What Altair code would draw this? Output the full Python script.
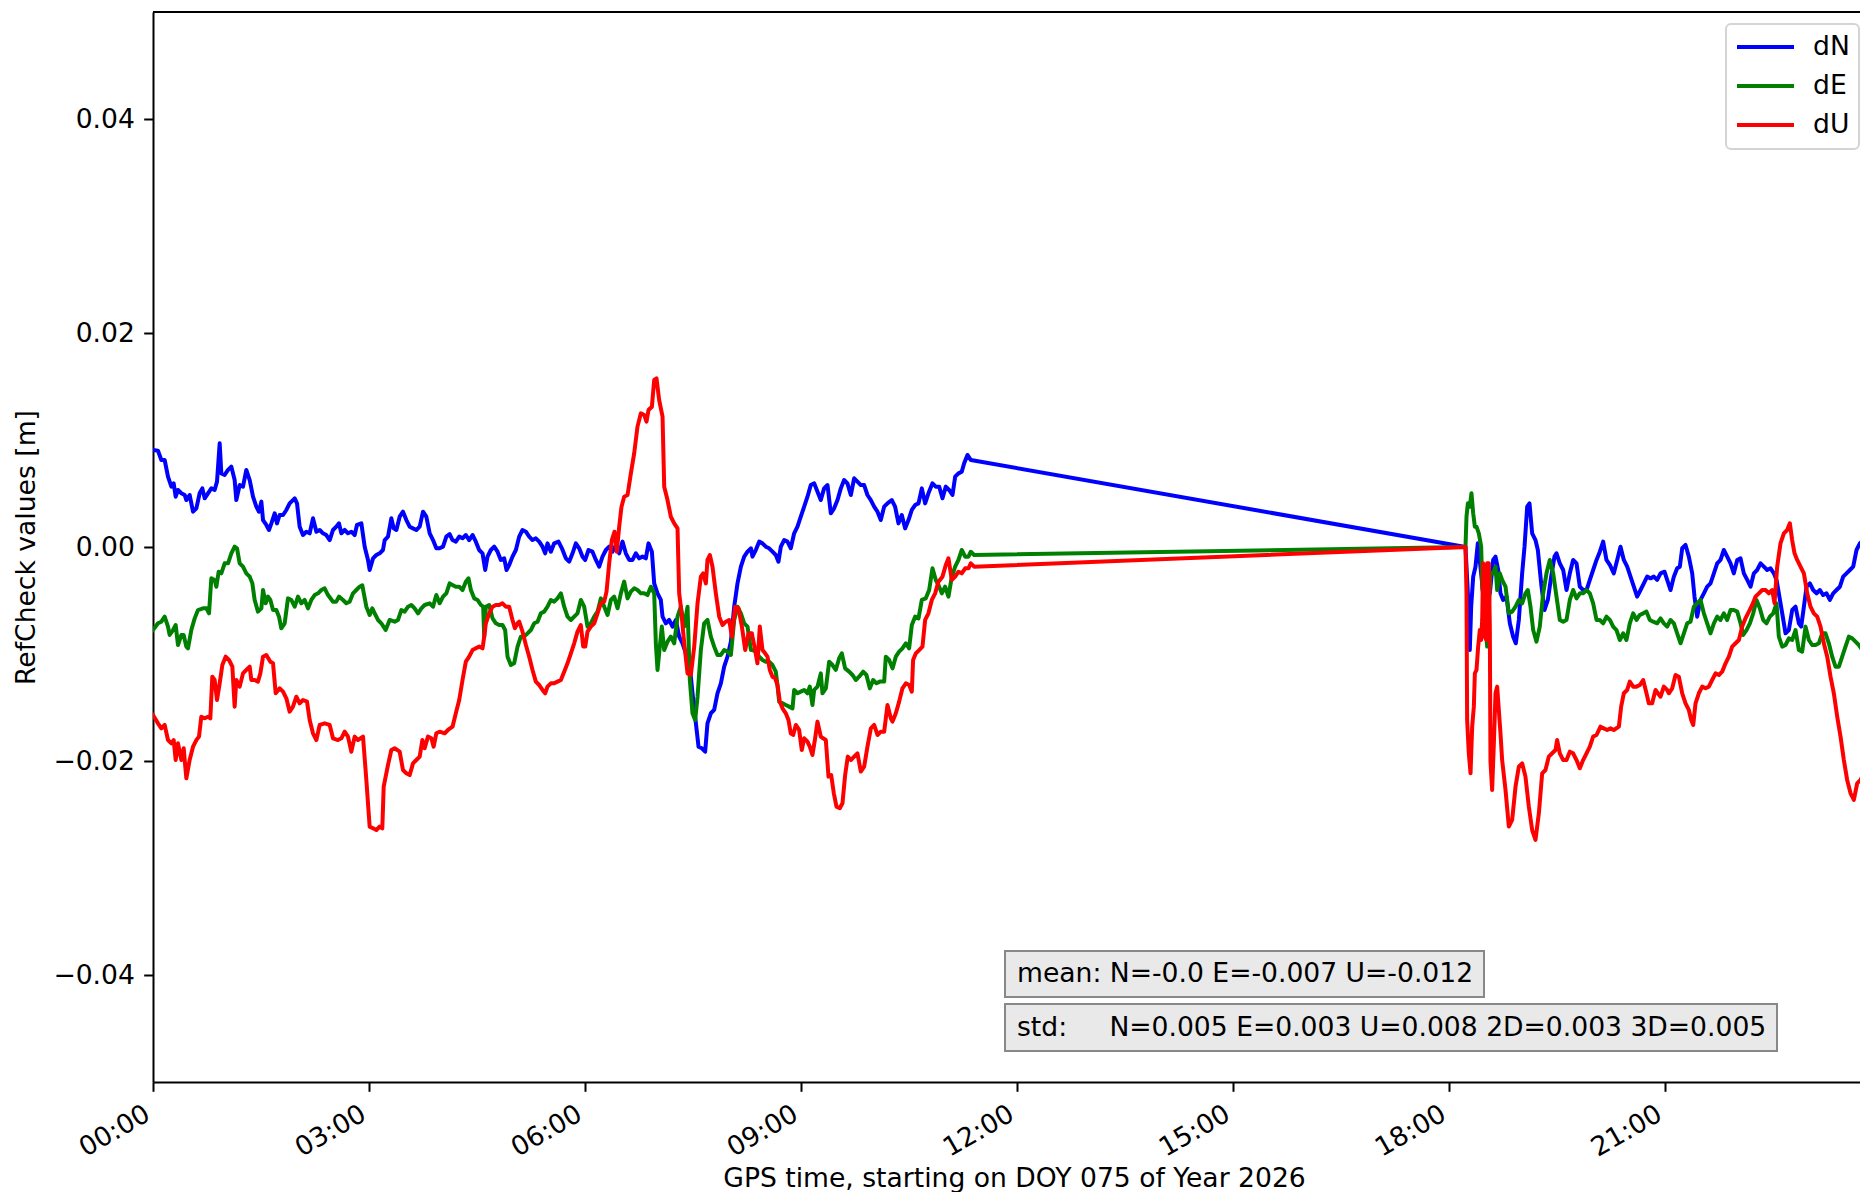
import altair as alt
import pandas as pd

# Values: (hours since 00:00 GPS time, value in millimetres)
dN = [
(0.0,9.06),(0.069,9.00),(0.116,8.13),(0.162,8.13),(0.208,6.57),(0.255,5.64),(0.287,5.95),(0.315,4.70),(0.347,5.33),(0.394,5.02),
(0.440,4.86),(0.463,4.39),(0.509,4.86),(0.556,3.30),(0.602,3.61),(0.648,5.02),(0.685,5.48),(0.718,4.55),(0.764,5.02),(0.810,5.48),
(0.856,5.33),(0.889,6.11),(0.926,9.69),(0.949,6.88),(0.995,6.73),(1.042,7.20),(1.088,7.51),(1.134,6.26),(1.157,4.39),(1.204,5.79),
(1.250,5.64),(1.296,7.20),(1.343,6.26),(1.389,4.70),(1.435,3.77),(1.472,3.30),(1.505,4.24),(1.528,2.52),(1.574,2.06),(1.611,1.59),
(1.644,2.21),(1.690,3.15),(1.722,2.21),(1.759,2.99),(1.806,2.99),(1.852,3.46),(1.898,4.08),(1.968,4.55),(2.000,4.08),(2.037,1.90),
(2.083,1.12),(2.130,1.43),(2.176,1.28),(2.222,2.68),(2.269,1.43),(2.315,1.59),(2.361,1.28),(2.407,1.12),(2.454,0.65),(2.500,1.59),
(2.546,1.90),(2.583,2.21),(2.616,1.28),(2.662,1.59),(2.708,1.28),(2.755,1.43),(2.801,1.12),(2.833,2.06),(2.894,2.21),(2.940,0.03),
(2.986,-1.21),(3.009,-2.15),(3.056,-1.06),(3.102,-0.75),(3.148,-0.59),(3.194,-0.28),(3.218,0.65),(3.264,0.97),(3.310,2.68),(3.343,1.74),
(3.380,1.59),(3.426,2.83),(3.472,3.30),(3.519,2.52),(3.565,1.90),(3.611,1.74),(3.657,1.59),(3.704,1.90),(3.750,3.30),(3.796,2.83),
(3.843,1.28),(3.889,0.65),(3.935,-0.12),(3.981,-0.12),(4.028,0.03),(4.074,0.97),(4.120,1.21),
(4.160,0.65),(4.206,0.50),(4.253,0.97),(4.299,0.81),(4.345,1.12),(4.391,0.65),(4.438,1.12),(4.484,0.50),(4.530,-0.28),(4.577,-0.59),
(4.614,-2.15),(4.646,-0.90),(4.692,-0.28),(4.739,0.03),(4.785,-0.44),(4.831,-1.21),(4.878,-1.06),(4.910,-2.15),(4.947,-1.68),(4.993,-0.90),
(5.040,-0.28),(5.086,0.97),(5.132,1.59),(5.179,1.43),(5.225,0.97),(5.271,0.65),(5.317,0.81),(5.364,0.50),(5.410,0.03),(5.447,-0.59),
(5.479,0.34),(5.526,-0.44),(5.572,0.34),(5.632,0.50),(5.679,-0.12),(5.734,-1.06),(5.780,-1.37),(5.827,-0.59),(5.873,0.34),(5.919,-0.12),
(5.966,-0.90),(6.003,-1.21),(6.049,-0.28),(6.104,-0.44),(6.151,-1.21),(6.197,-1.84),(6.243,-0.90),(6.290,-0.28),(6.336,0.03),(6.382,-0.44),
(6.429,0.19),(6.475,-0.59),(6.521,0.50),(6.567,-0.59),(6.614,-1.21),(6.660,-1.21),(6.706,-0.59),(6.753,-1.06),(6.799,-0.90),(6.845,-1.06),
(6.882,0.34),(6.929,-0.44),(6.961,-3.40),(7.007,-4.33),(7.053,-4.95),(7.077,-6.51),(7.123,-7.13),(7.169,-6.82),(7.216,-7.44),(7.262,-6.82),
(7.308,-8.38),(7.354,-9.00),(7.401,-9.94),(7.447,-10.56),(7.493,-13.67),(7.540,-16.48),(7.577,-18.66),(7.623,-18.81),(7.669,-19.13),(7.701,-16.48),
(7.748,-15.54),(7.794,-15.23),(7.840,-13.67),(7.887,-12.74),(7.933,-11.18),(7.979,-10.25),(8.026,-8.85),(8.072,-5.58),(8.118,-3.40),(8.165,-1.84),
(8.211,-0.90),(8.257,-0.44),(8.304,-0.12),
(8.326,-0.90),(8.372,-0.28),(8.419,0.50),(8.465,0.34),(8.511,0.03),(8.557,-0.12),(8.604,-0.44),(8.650,-0.75),(8.687,-1.37),(8.720,0.03),
(8.766,0.65),(8.812,0.50),(8.858,-0.12),(8.905,1.28),(8.951,1.90),(8.997,2.83),(9.044,3.77),(9.090,4.70),(9.136,5.79),(9.183,5.95),
(9.229,5.17),(9.275,4.39),(9.321,5.48),(9.368,5.79),(9.414,3.15),(9.460,3.61),(9.507,4.39),(9.553,5.48),(9.599,6.26),(9.645,5.95),
(9.692,4.86),(9.738,6.42),(9.784,6.11),(9.831,5.79),(9.877,5.79),(9.923,4.86),(9.970,4.39),(10.016,3.77),(10.062,3.30),(10.108,2.52),
(10.155,3.77),(10.201,4.08),(10.261,4.39),(10.307,3.77),(10.354,2.21),(10.400,2.99),(10.446,1.74),(10.493,2.52),(10.539,3.46),(10.585,3.92),
(10.632,4.08),(10.678,5.48),(10.724,4.08),(10.770,5.02),(10.826,5.95),(10.872,5.64),(10.919,5.64),(10.965,4.55),(11.011,5.64),(11.057,5.33),
(11.104,4.86),(11.141,6.57),(11.187,6.88),(11.233,7.04),(11.266,7.82),(11.312,8.60),(11.359,8.13),
(18.229,0.0),(18.262,-4.33),(18.289,-9.63),(18.308,-5.58),(18.336,-2.77),(18.368,-1.84),(18.400,0.34),(18.437,-1.84),(18.474,-4.33),(18.521,-4.33),
(18.567,-4.33),(18.613,-1.21),(18.646,-0.90),(18.683,-2.15),(18.715,-4.33),(18.752,-4.95),(18.799,-4.64),(18.845,-7.13),(18.891,-8.38),(18.928,-9.00),
(18.970,-6.82),(19.016,-2.46),(19.049,0.03),(19.086,3.77),(19.118,4.08),(19.155,1.28),(19.201,0.65),(19.234,-0.28),(19.280,-3.40),(19.326,-5.89),
(19.373,-4.95),(19.419,-2.77),(19.465,-0.90),(19.493,-0.59),(19.539,-1.53),(19.586,-2.15),(19.632,-4.02),(19.678,-2.46),(19.724,-1.21),(19.771,-1.53),
(19.817,-3.71),(19.863,-4.02),(19.910,-4.02),(19.956,-3.08),(20.002,-2.15),(20.049,-1.21),(20.095,-0.44),(20.141,0.50),(20.187,-1.21),(20.234,-1.68),
(20.289,-2.46),(20.336,-1.21),(20.382,0.03),(20.428,-1.21),(20.475,-1.84),(20.521,-2.77),(20.567,-3.71),(20.613,-4.64),(20.660,-4.02),(20.706,-3.40),
(20.752,-2.77),(20.799,-2.93),(20.845,-2.77),(20.891,-3.08),
(20.938,-2.46),(20.993,-2.31),(21.030,-3.08),(21.077,-4.02),(21.123,-2.77),(21.169,-1.99),(21.206,-1.84),(21.239,-0.12),(21.285,0.19),(21.331,-0.90),
(21.378,-2.46),(21.410,-4.64),(21.447,-6.51),(21.493,-4.95),(21.540,-4.33),(21.586,-3.71),(21.632,-3.40),(21.679,-2.46),(21.725,-1.53),(21.771,-1.21),
(21.817,-0.28),(21.864,-0.90),(21.910,-1.53),(21.956,-2.46),(22.003,-1.21),(22.049,-1.06),(22.095,-2.46),(22.142,-3.08),(22.188,-3.71),(22.234,-2.46),
(22.280,-2.15),(22.327,-1.53),(22.373,-1.84),(22.419,-2.15),(22.466,-1.99),(22.512,-2.46),(22.549,-3.08),(22.581,-4.33),(22.628,-6.20),(22.674,-8.07),
(22.720,-7.76),(22.767,-5.89),(22.813,-5.58),(22.859,-7.13),(22.892,-7.44),(22.929,-5.58),(22.966,-3.71),(23.012,-3.40),(23.058,-4.02),(23.105,-4.33),
(23.151,-4.02),(23.197,-4.49),(23.243,-4.33),(23.290,-4.95),(23.336,-4.33),(23.382,-4.02),(23.429,-3.71),(23.475,-2.77),(23.521,-2.46),(23.568,-2.15),
(23.614,-1.84),(23.660,-0.28),(23.706,0.34),(23.753,0.65),(23.799,0.97),(23.827,1.90),
]

dE = [
(0.0,-7.76),(0.069,-7.13),(0.116,-6.98),(0.162,-6.51),(0.208,-7.44),(0.231,-8.22),(0.278,-7.76),(0.315,-7.29),(0.347,-9.16),(0.394,-8.22),
(0.426,-8.22),(0.463,-9.31),(0.486,-9.47),(0.532,-7.76),(0.579,-6.67),(0.625,-5.89),(0.694,-5.73),(0.741,-5.73),(0.778,-6.20),(0.810,-2.93),
(0.856,-3.08),(0.880,-3.71),(0.912,-2.31),(0.949,-2.46),(0.995,-1.53),(1.042,-1.53),(1.088,-0.59),(1.134,0.03),(1.167,-0.12),(1.204,-1.53),
(1.250,-1.84),(1.296,-2.46),(1.343,-2.77),(1.380,-3.40),(1.412,-4.95),(1.458,-6.04),(1.505,-5.73),(1.528,-4.02),(1.565,-5.26),(1.597,-4.64),
(1.630,-4.95),(1.667,-5.89),(1.713,-5.89),(1.750,-6.51),(1.782,-7.60),(1.829,-7.13),(1.875,-4.80),(1.921,-4.95),(1.968,-5.58),(2.014,-4.64),
(2.060,-5.26),(2.106,-4.95),(2.153,-5.73),(2.199,-4.95),(2.245,-4.49),(2.292,-4.33),(2.338,-4.02),(2.384,-3.86),(2.431,-4.49),(2.500,-5.11),
(2.546,-5.11),(2.583,-4.64),(2.639,-4.95),(2.685,-5.26),(2.731,-5.11),(2.778,-4.33),(2.824,-4.02),(2.870,-3.71),(2.907,-3.58),(2.963,-5.58),
(3.009,-6.35),(3.046,-5.73),(3.079,-6.20),(3.125,-6.82),(3.171,-7.13),(3.231,-7.76),(3.287,-6.82),(3.356,-6.98),(3.403,-6.82),(3.449,-5.89),
(3.495,-6.04),(3.542,-5.58),(3.588,-5.42),(3.634,-5.73),(3.681,-6.20),(3.727,-5.73),(3.773,-5.42),(3.843,-5.26),(3.889,-5.58),(3.935,-4.49),
(3.981,-5.26),(4.028,-4.64),(4.074,-4.33),(4.120,-3.40),
(4.160,-3.55),(4.206,-3.71),(4.253,-3.71),(4.299,-4.02),(4.345,-3.24),(4.382,-2.93),(4.415,-4.02),(4.461,-4.80),(4.507,-4.95),(4.554,-5.42),
(4.586,-5.58),(4.600,-8.38),(4.623,-5.58),(4.669,-5.42),(4.716,-6.67),(4.762,-7.13),(4.808,-7.29),(4.854,-7.29),(4.891,-7.76),(4.924,-10.25),
(4.970,-11.03),(5.016,-10.87),(5.063,-9.31),(5.109,-8.38),(5.155,-8.38),(5.202,-8.07),(5.248,-7.76),(5.294,-7.13),(5.341,-6.98),(5.387,-6.20),
(5.433,-6.04),(5.479,-5.58),(5.526,-4.95),(5.572,-5.11),(5.618,-4.80),(5.665,-4.33),(5.711,-5.58),(5.757,-6.51),(5.804,-6.82),(5.850,-6.51),
(5.896,-6.20),(5.942,-4.95),(5.989,-5.58),(6.035,-7.44),(6.081,-7.13),(6.128,-6.51),(6.174,-6.04),(6.220,-4.80),(6.267,-5.58),(6.313,-6.35),
(6.359,-4.95),(6.405,-4.64),(6.452,-5.73),(6.498,-4.33),(6.544,-3.24),(6.591,-4.80),(6.637,-4.17),(6.683,-3.86),(6.729,-4.02),(6.776,-4.33),
(6.822,-4.33),(6.868,-4.49),(6.915,-3.71),(6.961,-4.33),(6.984,-9.00),(7.007,-11.49),(7.030,-9.94),(7.067,-7.44),(7.100,-9.63),(7.146,-8.85),
(7.192,-8.38),(7.239,-9.00),(7.285,-6.51),(7.331,-5.58),(7.378,-7.44),(7.424,-5.58),(7.456,-12.43),(7.493,-15.54),(7.530,-16.17),(7.563,-13.99),
(7.609,-9.63),(7.655,-7.13),(7.701,-6.82),(7.748,-8.38),(7.794,-9.31),(7.840,-10.09),(7.887,-10.09),(7.933,-9.63),(7.979,-9.78),(8.026,-10.09),
(8.072,-6.82),(8.118,-5.58),(8.165,-6.20),(8.211,-7.13),(8.257,-7.44),(8.304,-9.63),
(8.326,-9.63),(8.372,-9.78),(8.419,-10.25),(8.465,-10.56),(8.511,-10.72),(8.557,-10.72),(8.604,-11.03),(8.650,-11.65),(8.673,-12.90),(8.696,-14.45),
(8.743,-14.61),(8.789,-14.77),(8.835,-14.92),(8.882,-15.08),(8.905,-13.36),(8.951,-13.67),(8.997,-13.52),(9.044,-13.36),(9.090,-13.67),(9.122,-13.05),
(9.159,-14.77),(9.183,-13.36),(9.229,-13.05),(9.275,-11.81),(9.298,-13.67),(9.345,-13.21),(9.391,-10.72),(9.437,-11.03),(9.483,-11.49),(9.530,-10.40),
(9.567,-9.94),(9.613,-11.34),(9.669,-11.65),(9.715,-11.96),(9.761,-12.43),(9.807,-12.12),(9.863,-11.65),(9.909,-11.96),(9.956,-13.21),(10.002,-12.43),
(10.048,-12.74),(10.095,-12.58),(10.155,-12.58),(10.178,-10.25),(10.224,-10.56),(10.271,-11.34),(10.317,-10.25),(10.363,-9.78),(10.409,-9.47),(10.456,-9.00),
(10.502,-9.47),(10.539,-7.29),(10.585,-6.51),(10.632,-6.67),(10.678,-4.95),(10.733,-4.80),(10.780,-4.02),(10.826,-1.99),(10.872,-3.08),(10.909,-3.55),
(10.956,-4.33),(11.002,-3.71),(11.048,-4.64),(11.095,-2.77),(11.141,-1.84),(11.187,-1.21),(11.233,-0.28),(11.280,-0.90),(11.326,-0.90),(11.358,-0.44),
(11.405,-0.75),
(18.229,0.0),(18.243,2.83),(18.262,4.08),(18.289,3.77),(18.312,5.02),(18.336,3.15),(18.359,1.90),(18.382,1.90),(18.414,1.28),(18.447,0.03),
(18.461,-3.71),(18.484,-4.95),(18.507,-7.44),(18.530,-9.31),(18.553,-5.58),(18.576,-2.46),(18.613,-2.46),(18.646,-1.84),(18.669,-4.02),(18.706,-2.46),
(18.738,-3.08),(18.785,-3.71),(18.831,-6.20),(18.877,-6.04),(18.924,-5.58),(18.970,-4.95),(19.016,-5.26),(19.062,-4.33),(19.095,-4.02),(19.132,-5.58),
(19.169,-7.76),(19.215,-8.85),(19.261,-7.44),(19.308,-4.33),(19.354,-2.46),(19.400,-1.21),(19.447,-2.46),(19.493,-4.64),(19.539,-6.82),(19.586,-6.98),
(19.632,-6.82),(19.678,-4.95),(19.724,-4.02),(19.771,-4.80),(19.817,-4.33),(19.863,-4.33),(19.910,-4.02),(19.956,-4.33),(20.002,-5.26),(20.049,-6.82),
(20.095,-6.82),(20.141,-7.13),(20.187,-6.51),(20.234,-6.82),(20.280,-7.44),(20.326,-7.76),(20.373,-8.69),(20.419,-8.07),(20.465,-8.69),(20.511,-7.13),
(20.558,-6.20),(20.604,-6.82),(20.650,-6.35),(20.697,-6.20),(20.743,-6.04),(20.789,-6.82),(20.836,-6.98),(20.891,-7.13),
(20.938,-6.67),(20.984,-7.13),(21.030,-7.44),(21.077,-6.82),(21.123,-7.13),(21.169,-8.07),(21.216,-9.00),(21.262,-8.07),(21.308,-7.13),(21.354,-6.98),
(21.401,-5.58),(21.447,-5.26),(21.493,-4.95),(21.540,-6.20),(21.586,-7.13),(21.632,-8.07),(21.679,-7.13),(21.725,-6.51),(21.771,-6.82),(21.817,-6.20),
(21.864,-6.82),(21.910,-5.89),(21.956,-5.89),(22.003,-6.04),(22.049,-7.13),(22.086,-8.22),(22.132,-7.76),(22.179,-7.13),(22.225,-6.20),(22.271,-4.95),
(22.317,-5.73),(22.364,-6.82),(22.410,-7.13),(22.456,-6.51),(22.503,-6.20),(22.549,-5.26),(22.581,-8.38),(22.628,-9.31),(22.674,-9.16),(22.720,-8.54),
(22.767,-8.69),(22.813,-7.76),(22.859,-9.63),(22.905,-9.78),(22.952,-7.44),(22.998,-8.69),(23.044,-9.16),(23.091,-9.16),(23.137,-9.00),(23.183,-8.07),
(23.229,-8.07),(23.276,-9.00),(23.322,-10.25),(23.368,-11.18),(23.415,-11.18),(23.461,-10.25),(23.507,-9.31),(23.554,-8.38),(23.600,-8.54),(23.646,-8.85),
(23.693,-9.16),(23.739,-9.63),(23.785,-10.56),(23.817,-11.18),(23.827,-7.13),
]

dU = [
(0.0,-15.70),(0.069,-16.48),(0.116,-16.95),(0.162,-16.63),(0.208,-18.04),(0.255,-18.35),(0.287,-18.04),(0.315,-19.91),(0.347,-18.35),(0.394,-19.91),
(0.426,-18.81),(0.463,-21.62),(0.509,-19.91),(0.556,-18.66),(0.602,-18.04),(0.639,-17.72),(0.671,-15.86),(0.718,-16.01),(0.764,-15.86),(0.796,-16.01),
(0.824,-12.12),(0.856,-12.43),(0.889,-14.30),(0.926,-12.74),(0.963,-11.03),(1.009,-10.25),(1.056,-10.56),(1.102,-11.18),(1.134,-14.92),(1.157,-12.43),
(1.204,-13.05),(1.250,-11.81),(1.296,-11.49),(1.343,-11.18),(1.366,-12.43),(1.412,-12.43),(1.458,-12.58),(1.491,-11.81),(1.528,-10.25),(1.574,-10.09),
(1.630,-10.72),(1.667,-10.87),(1.704,-13.67),(1.759,-13.21),(1.806,-13.52),(1.852,-14.14),(1.898,-15.39),(1.944,-14.92),(1.991,-13.99),(2.037,-14.61),
(2.083,-14.30),(2.139,-14.45),(2.176,-16.17),(2.222,-17.41),(2.269,-18.04),(2.315,-16.63),(2.384,-16.48),(2.454,-16.63),(2.500,-17.88),(2.569,-18.04),
(2.616,-17.88),(2.662,-17.26),(2.708,-17.72),(2.755,-19.13),(2.801,-17.72),(2.847,-18.04),(2.917,-17.72),(2.963,-21.77),(3.009,-26.13),(3.056,-26.29),
(3.102,-26.45),(3.148,-26.13),(3.185,-26.29),(3.204,-22.40),(3.264,-20.37),(3.310,-18.97),(3.356,-18.81),(3.426,-19.13),(3.472,-20.84),(3.519,-21.15),
(3.565,-21.31),(3.611,-20.22),(3.657,-19.91),(3.704,-19.59),(3.741,-18.04),(3.773,-18.81),(3.819,-17.72),(3.866,-17.88),(3.898,-18.66),(3.935,-17.41),
(3.981,-17.26),(4.051,-17.41),(4.097,-17.10),
(4.160,-16.79),(4.206,-15.54),(4.253,-14.30),(4.299,-12.43),(4.345,-10.72),(4.391,-10.25),(4.438,-9.63),(4.484,-9.47),(4.530,-9.31),(4.577,-9.47),
(4.600,-8.38),(4.623,-7.13),(4.669,-6.20),(4.716,-5.58),(4.762,-5.42),(4.808,-5.42),(4.854,-5.26),(4.901,-5.58),(4.947,-5.58),(4.993,-6.82),
(5.026,-7.60),(5.063,-7.13),(5.086,-6.98),(5.132,-7.91),(5.179,-9.16),(5.225,-10.25),(5.271,-11.49),(5.317,-12.58),(5.364,-12.90),(5.410,-13.36),
(5.447,-13.67),(5.479,-13.05),(5.526,-12.74),(5.572,-12.74),(5.618,-12.58),(5.665,-12.43),(5.711,-11.65),(5.757,-10.87),(5.804,-9.94),(5.850,-9.00),
(5.896,-7.91),(5.942,-7.29),(5.975,-9.31),(6.003,-9.31),(6.035,-7.91),(6.081,-7.44),(6.128,-7.13),(6.174,-6.20),(6.220,-5.26),(6.267,-5.11),
(6.299,-4.17),(6.336,-1.53),(6.373,0.65),(6.410,1.43),(6.442,-0.44),(6.475,1.90),(6.507,3.77),(6.544,4.70),(6.591,4.86),(6.637,6.88),
(6.683,8.75),(6.729,11.25),(6.776,12.49),(6.822,12.34),(6.854,11.71),(6.882,12.80),(6.929,13.11),(6.961,15.61),(6.993,15.76),(7.030,13.74),
(7.077,12.18),(7.100,5.64),(7.146,4.39),(7.192,2.83),(7.239,2.21),(7.285,1.74),(7.308,-4.33),(7.331,-5.58),(7.378,-9.00),(7.424,-11.81),
(7.470,-11.96),(7.517,-9.31),(7.563,-5.26),(7.609,-2.77),(7.641,-2.46),(7.679,-3.40),(7.701,-1.21),(7.734,-0.75),(7.771,-1.84),(7.817,-4.33),
(7.864,-6.51),(7.910,-7.29),(7.956,-6.98),(8.003,-6.82),(8.040,-8.38),(8.086,-5.58),(8.132,-5.73),(8.179,-7.44),(8.225,-9.63),(8.271,-8.07),
(8.318,-8.07),
(8.326,-8.38),(8.363,-9.63),(8.395,-10.87),(8.428,-7.44),(8.465,-9.63),(8.502,-9.94),(8.534,-10.25),(8.567,-11.49),(8.604,-12.12),(8.641,-12.27),
(8.673,-12.90),(8.706,-14.45),(8.743,-15.08),(8.789,-15.54),(8.826,-16.17),(8.858,-17.41),(8.891,-17.57),(8.928,-16.63),(8.974,-17.10),(9.011,-18.97),
(9.044,-17.88),(9.090,-18.19),(9.122,-18.66),(9.159,-19.44),(9.196,-17.88),(9.229,-16.32),(9.275,-17.72),(9.307,-17.88),(9.345,-18.04),(9.382,-21.46),
(9.419,-21.31),(9.456,-23.02),(9.493,-24.27),(9.539,-24.42),(9.576,-23.95),(9.613,-21.31),(9.650,-19.59),(9.692,-19.91),(9.738,-19.59),(9.784,-19.28),
(9.831,-20.99),(9.877,-20.53),(9.923,-18.66),(9.970,-16.95),(10.016,-16.63),(10.062,-17.57),(10.108,-17.26),(10.155,-17.26),(10.201,-14.77),(10.247,-16.01),
(10.271,-16.32),(10.317,-15.54),(10.363,-14.45),(10.409,-13.21),(10.456,-12.74),(10.502,-12.90),(10.539,-13.52),(10.557,-10.56),(10.595,-9.94),(10.641,-9.63),
(10.687,-9.31),(10.724,-6.82),(10.770,-6.20),(10.817,-4.95),(10.863,-4.33),(10.909,-3.24),(10.965,-2.77),(11.011,-1.68),(11.048,-1.06),(11.095,-3.08),
(11.141,-2.77),(11.187,-2.31),(11.233,-2.46),(11.280,-1.99),(11.326,-1.99),(11.358,-1.53),(11.405,-1.84),
(18.229,0.0),(18.243,-4.33),(18.252,-16.17),(18.275,-19.28),(18.299,-21.15),(18.322,-16.79),(18.345,-14.92),(18.359,-11.81),(18.382,-11.49),(18.405,-9.31),
(18.428,-7.76),(18.447,-8.69),(18.461,-6.82),(18.474,-1.53),(18.498,-8.38),(18.521,-8.69),(18.530,-1.53),(18.553,-1.53),(18.567,-7.44),(18.576,-20.03),
(18.599,-22.71),(18.623,-18.35),(18.646,-13.67),(18.669,-13.05),(18.692,-15.23),(18.715,-17.41),(18.738,-19.91),(18.785,-22.71),(18.831,-26.13),(18.877,-25.51),
(18.924,-22.40),(18.970,-20.53),(19.016,-20.22),(19.062,-21.46),(19.109,-24.27),(19.155,-26.45),(19.201,-27.38),(19.248,-24.89),(19.294,-21.15),(19.340,-20.84),
(19.386,-19.59),(19.433,-19.28),(19.479,-18.97),(19.502,-18.04),(19.539,-19.28),(19.586,-19.91),(19.632,-19.91),(19.678,-19.13),(19.724,-19.28),(19.771,-19.91),
(19.817,-20.68),(19.863,-19.91),(19.910,-19.28),(19.956,-18.66),(20.002,-17.72),(20.049,-17.57),(20.104,-16.79),(20.150,-16.95),(20.197,-17.10),(20.243,-16.95),
(20.289,-17.10),(20.359,-16.79),(20.391,-14.92),(20.428,-13.67),(20.475,-13.36),(20.511,-12.58),(20.558,-13.05),(20.604,-13.05),(20.650,-12.90),(20.697,-12.43),
(20.743,-13.67),(20.775,-14.61),(20.822,-14.61),(20.868,-13.36),
(20.938,-13.99),(20.984,-13.05),(21.030,-13.36),(21.054,-13.67),(21.100,-13.21),(21.146,-11.96),(21.192,-12.12),(21.239,-13.67),(21.285,-14.61),(21.331,-15.23),
(21.364,-16.17),(21.392,-16.63),(21.424,-14.61),(21.470,-13.67),(21.517,-13.05),(21.563,-13.21),(21.609,-13.05),(21.655,-12.43),(21.702,-11.81),(21.748,-11.96),
(21.794,-11.65),(21.841,-10.87),(21.887,-10.25),(21.933,-9.31),(21.980,-9.00),(22.026,-8.69),(22.072,-7.44),(22.118,-6.67),(22.165,-6.04),(22.211,-5.42),
(22.257,-4.64),(22.304,-4.33),(22.350,-4.02),(22.396,-4.02),(22.443,-4.33),(22.489,-4.02),(22.521,-5.26),(22.558,-1.84),(22.604,0.34),(22.651,1.28),
(22.697,1.59),(22.734,2.21),(22.766,0.65),(22.799,-0.59),(22.836,-1.21),(22.882,-1.84),(22.929,-2.46),(22.975,-4.33),(23.021,-5.58),(23.067,-6.20),
(23.114,-6.51),(23.160,-7.44),(23.206,-9.00),(23.253,-10.25),(23.299,-12.12),(23.345,-13.67),(23.392,-15.86),(23.438,-17.72),(23.484,-19.91),(23.530,-21.77),
(23.577,-23.02),(23.623,-23.64),(23.669,-22.09),(23.716,-21.77),(23.762,-21.15),(23.827,-19.91),
]

series_names = ["dN", "dE", "dU"]
series_colors = ["#0000ff", "#008000", "#ff0000"]
x_tick_hours = [0, 3, 6, 9, 12, 15, 18, 21]
y_tick_values = [-0.04, -0.02, 0.0, 0.02, 0.04]
x_title = "GPS time, starting on DOY 075 of Year 2026"
y_title = "RefCheck values [m]"
mean_text = "mean: N=-0.0 E=-0.007 U=-0.012"
std_text = "std:\u00a0\u00a0\u00a0\u00a0\u00a0N=0.005 E=0.003 U=0.008 2D=0.003 3D=0.005"

rows = []
for name, pts in zip(series_names, [dN, dE, dU]):
    for t, v in pts:
        rows.append({"t": t, "v": v / 1000.0, "s": name})
df = pd.DataFrame(rows)

W, H = 1707, 1070
FS = 26.6
FONT = "DejaVu Sans"

xscale = alt.Scale(domain=[0, W / 72.0], nice=False, zero=False)
yscale = alt.Scale(domain=[-0.05, 0.05], nice=False, zero=False)

xaxis = alt.Axis(
    values=x_tick_hours,
    labelExpr="(datum.value < 10 ? '0' : '') + datum.value + ':00'",
    labelAngle=330, labelAlign="right", labelBaseline="top",
    labelOffset=-12, labelPadding=9, labelFlush=False, labelOverlap=False,
    tickSize=9.3, tickWidth=2, tickColor="black",
    domainWidth=2, domainColor="black",
    labelFontSize=FS, labelFont=FONT, labelColor="black",
    title=x_title, titleFontSize=FS, titleFont=FONT, titleFontWeight="normal",
    titleColor="black", titleX=861, titleY=104, titleBaseline="alphabetic",
    titleAlign="center", grid=False,
)
yaxis = alt.Axis(
    values=y_tick_values, format=".2f",
    tickSize=9.3, tickWidth=2, tickColor="black",
    domainWidth=2, domainColor="black",
    labelFontSize=FS, labelFont=FONT, labelColor="black", labelPadding=9.3,
    title=y_title, titleFontSize=FS, titleFont=FONT, titleFontWeight="normal",
    titleColor="black", titlePadding=12, grid=False,
)

legend = alt.Legend(
    title=None, orient="none", legendX=1582, legendY=21,
    symbolType="stroke", symbolSize=3249, symbolStrokeWidth=4,
    labelFontSize=FS, labelFont=FONT, labelColor="black", labelOffset=17,
    clipHeight=28, rowPadding=11, padding=0,
)
color = alt.Color("s:N", scale=alt.Scale(domain=series_names, range=series_colors),
                  legend=legend, sort=series_names)

base = alt.Chart(df)
layers = []
for name in series_names:
    layers.append(
        base.transform_filter(alt.datum.s == name)
        .mark_line(strokeWidth=4, clip=True, strokeJoin="round", strokeCap="square")
        .encode(x=alt.X("t:Q", scale=xscale, axis=xaxis),
                y=alt.Y("v:Q", scale=yscale, axis=yaxis),
                color=color)
    )

one = pd.DataFrame({"a": [0]})
top_border = alt.Chart(one).mark_rule(color="black", strokeWidth=2).encode(
    x=alt.value(0), x2=alt.value(W), y=alt.value(0))

legend_frame = alt.Chart(one).mark_rect(
    fill="white", fillOpacity=0.8, stroke="#d4d4d4", strokeWidth=2, cornerRadius=5
).encode(x=alt.value(1573), x2=alt.value(1706), y=alt.value(12), y2=alt.value(137))

box_style = dict(fill="#e9e9e9", stroke="#888888", strokeWidth=2)
mean_box = alt.Chart(one).mark_rect(**box_style).encode(
    x=alt.value(852), x2=alt.value(1331), y=alt.value(939), y2=alt.value(985))
std_box = alt.Chart(one).mark_rect(**box_style).encode(
    x=alt.value(852), x2=alt.value(1624), y=alt.value(992), y2=alt.value(1039))
mean_label = alt.Chart(one).mark_text(align="left", baseline="middle", fontSize=FS,
                                      font=FONT, color="black").encode(
    x=alt.value(864), y=alt.value(962), text=alt.value(mean_text))
std_label = alt.Chart(one).mark_text(align="left", baseline="middle", fontSize=FS,
                                     font=FONT, color="black").encode(
    x=alt.value(864), y=alt.value(1015.5), text=alt.value(std_text))

chart = alt.layer(*layers, top_border, legend_frame, mean_box, std_box,
                  mean_label, std_label).properties(
    width=W, height=H,
    padding={"left": 145, "top": 4, "right": 0, "bottom": 110},
    autosize=alt.AutoSizeParams(type="none"),
).configure_view(stroke=None).configure(font=FONT)

chart.save("out.html", embed_options={"renderer": "svg", "actions": False})
